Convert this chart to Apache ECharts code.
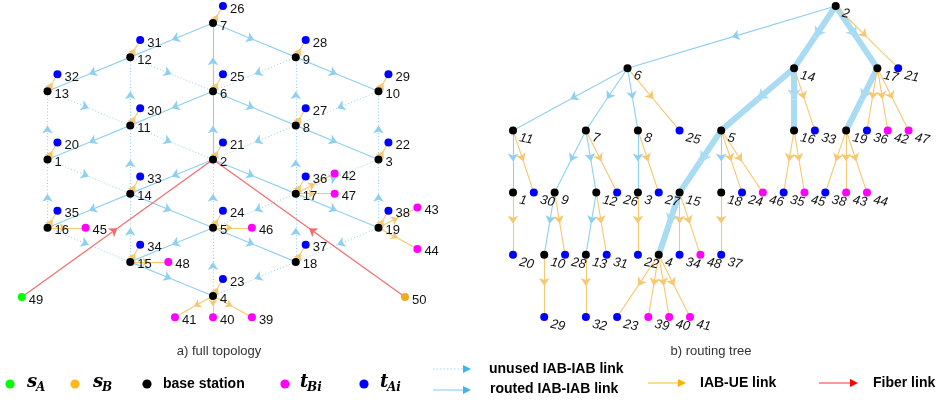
<!DOCTYPE html>
<html>
<head>
<meta charset="utf-8">
<script src="https://cdn.jsdelivr.net/npm/echarts@6.0.0/dist/echarts.min.js"></script>
<style>
  html, body { margin: 0; padding: 0; background: #fff; }
  #chart { width: 938px; height: 400px; }
</style>
</head>
<body>
<div id="chart"></div>
<script>
// ---------- Full topology: [node id, lattice column, lattice row] ----------
const topoStations = [
  [7, 0, 0], [12, -1, 1], [9, 1, 1], [13, -2, 2], [6, 0, 2], [10, 2, 2],
  [11, -1, 3], [8, 1, 3], [1, -2, 4], [2, 0, 4], [3, 2, 4], [14, -1, 5],
  [17, 1, 5], [16, -2, 6], [5, 0, 6], [19, 2, 6], [15, -1, 7], [18, 1, 7], [4, 0, 8]
];
const topoUeA = [
  [26, 0.12, -0.5], [31, -0.88, 0.5], [28, 1.12, 0.5], [32, -1.88, 1.5], [25, 0.12, 1.5],
  [29, 2.12, 1.5], [30, -0.88, 2.5], [27, 1.12, 2.5], [20, -1.88, 3.5], [21, 0.12, 3.5],
  [22, 2.12, 3.5], [33, -0.88, 4.5], [36, 1.12, 4.5], [35, -1.88, 5.5], [24, 0.12, 5.5],
  [38, 2.12, 5.5], [34, -0.88, 6.5], [37, 1.12, 6.5], [23, 0.12, 7.5]
];
const topoUeB = [
  [42, 1.47, 4.41], [47, 1.47, 5], [45, -1.54, 6], [46, 0.47, 6], [43, 2.47, 5.41],
  [44, 2.47, 6.62], [48, -0.54, 7], [41, -0.46, 8.62], [40, 0, 8.62], [39, 0.47, 8.62]
];
const topoSrcA = [[49, -2.31, 8.03]];
const topoSrcB = [[50, 2.32, 8.03]];

// ---------- Routing tree: [node id, horizontal slot, depth] ----------
const treeStations = [
  [2, 15.5, 0], [6, 5.5, 1], [14, 13.5, 1], [17, 17.5, 1],
  [11, 0, 2], [7, 3.5, 2], [8, 6, 2], [5, 10, 2], [16, 13.5, 2], [19, 16, 2],
  [1, 0, 3], [9, 2, 3], [12, 4, 3], [3, 6, 3], [15, 8, 3], [18, 10, 3],
  [10, 1.5, 4], [13, 3.5, 4], [4, 7, 4]
];
const treeUeA = [
  [21, 18.5, 1], [25, 8, 2], [33, 14.5, 2], [36, 17, 2], [30, 1, 3], [26, 5, 3],
  [27, 7, 3], [24, 11, 3], [35, 13, 3], [38, 15, 3], [20, 0, 4], [28, 2.5, 4],
  [31, 4.5, 4], [22, 6, 4], [34, 8, 4], [37, 10, 4], [29, 1.5, 5], [32, 3.5, 5], [23, 5, 5]
];
const treeUeB = [
  [42, 18, 2], [47, 19, 2], [46, 12, 3], [45, 14, 3], [43, 16, 3], [44, 17, 3],
  [48, 9, 4], [39, 6.5, 5], [40, 7.5, 5], [41, 8.5, 5]
];

// ---------- Links: [from, to] ----------
const routedLinks = [
  [2, 6], [6, 7], [7, 12], [12, 13], [7, 9], [9, 10], [6, 11], [11, 1], [6, 8],
  [8, 3], [2, 14], [14, 16], [14, 5], [5, 15], [15, 4], [2, 17], [17, 19], [5, 18]
];
const unusedLinks = [
  [11, 12], [12, 6], [9, 6], [8, 9], [13, 11], [1, 13], [11, 2], [10, 8], [3, 10],
  [8, 2], [14, 11], [1, 14], [16, 1], [5, 2], [17, 8], [17, 3], [19, 3], [15, 14],
  [16, 15], [17, 5], [18, 17], [19, 18], [18, 4], [4, 5]
];
const ueLinks = [
  [2, 21], [6, 25], [14, 33], [11, 30], [7, 26], [8, 27], [5, 24], [5, 46], [16, 35],
  [16, 45], [19, 38], [19, 43], [19, 44], [17, 36], [17, 42], [17, 47], [1, 20], [9, 28],
  [12, 31], [3, 22], [15, 34], [15, 48], [18, 37], [10, 29], [13, 32], [4, 23], [4, 39],
  [4, 40], [4, 41]
];
const fiberLinks = [[49, 2], [50, 2]];
const trunkLinks = [[2, 14], [14, 5], [5, 15], [15, 4], [14, 16], [2, 17], [17, 19]];

// ---------- colours ----------
const C = {
  station: '#000000', ueA: '#0000ff', ueB: '#ff00ff', srcA: '#00ff00', srcB: '#eeaa22',
  iab: '#8fd0f0', iabArrow: '#86ccee', trunk: '#a9dbf3', ue: '#f6c871', fiber: '#f46a6a'
};
const FONT = 'Arial, "Liberation Sans", Helvetica, sans-serif';

// ---------- helpers ----------
function positions(...lists) {
  const m = {};
  lists.forEach(l => l.forEach(([id, x, y]) => { m[id] = [x, y]; }));
  return m;
}
const topoPos = positions(topoStations, topoUeA, topoUeB, topoSrcA, topoSrcB);
const treePos = positions(treeStations, treeUeA, treeUeB);

const isTrunk = (s, t) => trunkLinks.some(([a, b]) => a === s && b === t);

// Each directed link is drawn as two halves so the arrowhead sits mid-way.
function linkSeries(links, pos, grid, style) {
  const head = [], tail = [];
  links.forEach(([s, t]) => {
    const a = pos[s], b = pos[t];
    const mid = [(a[0] + b[0]) / 2, (a[1] + b[1]) / 2];
    head.push({ coords: [a, mid] });
    tail.push({ coords: [mid, b] });
  });
  const base = {
    type: 'lines', coordinateSystem: 'cartesian2d', xAxisIndex: grid, yAxisIndex: grid,
    silent: true, clip: false, z: style.z || 2,
    lineStyle: { color: style.color, width: style.width, type: style.type || 'solid', opacity: 1 }
  };
  return [
    Object.assign({}, base, { data: tail, symbol: ['none', 'none'] }),
    Object.assign({}, base, {
      data: head, symbol: ['none', 'arrow'], symbolSize: style.arrow,
      itemStyle: { color: style.arrowColor || style.color }
    })
  ];
}

function nodeSeries(list, grid, color, label) {
  return {
    type: 'scatter', xAxisIndex: grid, yAxisIndex: grid, clip: false, silent: true, z: 5,
    symbolSize: 8,
    itemStyle: { color: color, opacity: 1 },
    label: label,
    data: list.map(([id, x, y]) => ({ name: String(id), value: [x, y] }))
  };
}

const topoLabel = {
  show: true, position: 'right', distance: 3, offset: [0, 3], formatter: '{b}',
  color: '#111', fontSize: 13, fontFamily: FONT
};
const treeLabel = {
  show: true, position: 'right', distance: 3, offset: [1, 7], formatter: '{b}',
  color: '#111', fontSize: 13, fontStyle: 'italic', fontFamily: FONT, rotate: -12
};

// ---------- panel geometry (pixel placement of the two drawing areas) ----------
const A = { cx: 213, col: 82.75, y0: 23, row: 34.125, xmin: -2.5, xmax: 2.5, ymin: -0.6, ymax: 9.2 };
const B = { x0: 513, slot: 20.82, y0: 6, lvl: 62.2, xmin: -1, xmax: 20, ymin: -0.09, ymax: 5.4 };

const grids = [
  { left: A.cx + A.xmin * A.col, width: (A.xmax - A.xmin) * A.col,
    top: A.y0 + A.ymin * A.row, height: (A.ymax - A.ymin) * A.row },
  { left: B.x0 + B.xmin * B.slot, width: (B.xmax - B.xmin) * B.slot,
    top: B.y0 + B.ymin * B.lvl, height: (B.ymax - B.ymin) * B.lvl }
];
const hiddenAxis = (i, min, max, inverse) => ({
  gridIndex: i, type: 'value', min, max, inverse, show: false
});

const treeRouted = routedLinks.filter(([s, t]) => !isTrunk(s, t));

const series = [
  // full topology
  ...linkSeries(unusedLinks, topoPos, 0, { color: C.iab, width: 1, type: [1, 2.2], arrow: 8, arrowColor: C.iabArrow }),
  ...linkSeries(routedLinks, topoPos, 0, { color: C.iab, width: 1.1, arrow: 8, arrowColor: C.iabArrow }),
  ...linkSeries(ueLinks, topoPos, 0, { color: C.ue, width: 1.1, arrow: 7, z: 3 }),
  ...linkSeries(fiberLinks, topoPos, 0, { color: C.fiber, width: 1.1, arrow: 8, z: 3 }),
  nodeSeries(topoStations, 0, C.station, topoLabel),
  nodeSeries(topoUeA, 0, C.ueA, topoLabel),
  nodeSeries(topoUeB, 0, C.ueB, topoLabel),
  nodeSeries(topoSrcA, 0, C.srcA, topoLabel),
  nodeSeries(topoSrcB, 0, C.srcB, topoLabel),
  // routing tree
  ...linkSeries(trunkLinks, treePos, 1, { color: C.trunk, width: 6, arrow: 10, arrowColor: '#8fcfef' }),
  ...linkSeries(treeRouted, treePos, 1, { color: C.iab, width: 1.1, arrow: 8, arrowColor: C.iabArrow }),
  ...linkSeries(ueLinks, treePos, 1, { color: C.ue, width: 1.1, arrow: 8, z: 3 }),
  nodeSeries(treeStations, 1, C.station, treeLabel),
  nodeSeries(treeUeA, 1, C.ueA, treeLabel),
  nodeSeries(treeUeB, 1, C.ueB, treeLabel)
];

// ---------- legend and captions ----------
const txt = (x, y, text, font, fill, align) => ({
  type: 'text', x, y, silent: true,
  style: { text, font, fill: fill || '#000', textAlign: align || 'left', textVerticalAlign: 'middle',
           align: align || 'left', verticalAlign: 'middle' }
});
const dot = (x, y, color) => ({ type: 'circle', silent: true, shape: { cx: x, cy: y, r: 4.6 }, style: { fill: color } });
const arrowLine = (x1, x2, y, color, headColor, dash) => ({
  type: 'group', silent: true, children: [
    { type: 'line', shape: { x1, y1: y, x2: x2 - 4, y2: y },
      style: { stroke: color, lineWidth: 1, lineDash: dash || null } },
    { type: 'polygon', shape: { points: [[x2, y], [x2 - 8, y - 4], [x2 - 8, y + 4]] },
      style: { fill: headColor } }
  ]
});
const MATH = 'italic bold 18px "DejaVu Serif", serif';
const MATHSUB = 'italic bold 12px "DejaVu Serif", serif';
const LEG = 'bold 14px ' + FONT;

const graphic = [
  txt(219, 351, 'a) full topology', '13px ' + FONT, '#333', 'center'),
  txt(711, 351, 'b) routing tree', '13px ' + FONT, '#333', 'center'),
  dot(10, 384, C.srcA), txt(27, 382, 's', MATH), txt(36, 388, 'A', MATHSUB),
  dot(75, 384, '#ffb81c'), txt(93, 382, 's', MATH), txt(102, 388, 'B', MATHSUB),
  dot(147, 384, '#000'), txt(163, 384, 'base station', LEG),
  dot(285, 384, C.ueB), txt(300, 382, 't', MATH), txt(307, 388, 'Bi', MATHSUB),
  dot(364, 384, C.ueA), txt(380, 382, 't', MATH), txt(387, 388, 'Ai', MATHSUB),
  arrowLine(433, 471, 369, '#9ad5f2', '#3db5ea', [1.5, 2]),
  txt(489, 369, 'unused IAB-IAB link', LEG),
  arrowLine(433, 471, 390, '#7ecbef', '#3db5ea'),
  txt(490, 389, 'routed IAB-IAB link', LEG),
  arrowLine(648, 686, 383, '#ffc020', '#ffb000'),
  txt(700, 383, 'IAB-UE link', LEG),
  arrowLine(819, 858, 383, '#ff3030', '#ff0000'),
  txt(873, 383, 'Fiber link', LEG)
];

const chart = echarts.init(document.getElementById('chart'), null, { renderer: 'canvas' });
chart.setOption({
  animation: false,
  backgroundColor: '#fff',
  grid: grids,
  xAxis: [hiddenAxis(0, A.xmin, A.xmax, false), hiddenAxis(1, B.xmin, B.xmax, false)],
  yAxis: [hiddenAxis(0, A.ymin, A.ymax, true), hiddenAxis(1, B.ymin, B.ymax, true)],
  series,
  graphic
});
</script>
</body>
</html>
